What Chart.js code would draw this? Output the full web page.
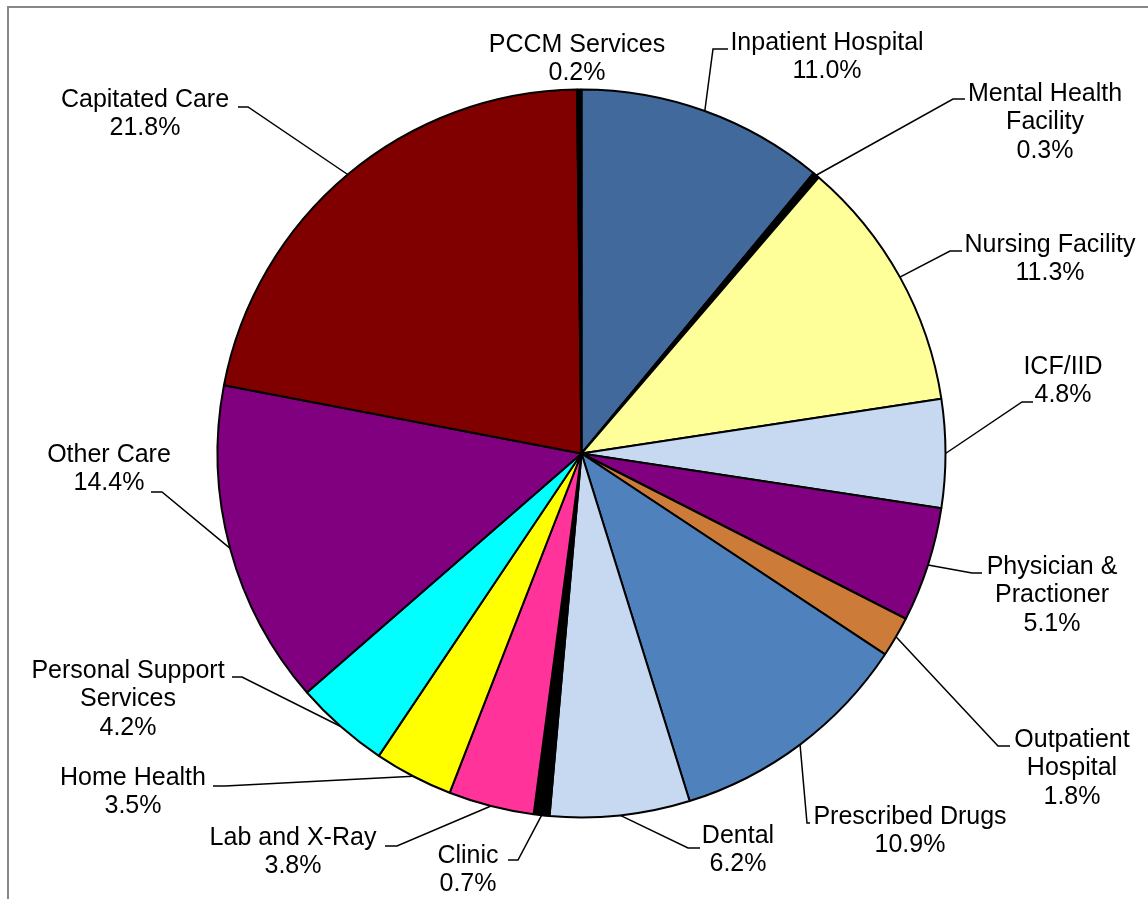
<!DOCTYPE html>
<html>
<head>
<meta charset="utf-8">
<title>Expenditures by Service Type</title>
<script src="https://cdn.jsdelivr.net/npm/chart.js@4.4.1/dist/chart.umd.min.js"></script>
<style>
  html, body { margin: 0; padding: 0; background: #ffffff; overflow: hidden; }
  #wrap { position: relative; width: 1148px; height: 899px; }
</style>
</head>
<body>
<div id="wrap"><canvas id="pie" width="1148" height="899"></canvas></div>
<script>
// Service categories (multi-line names as drawn)
const categories = [
  ['Inpatient Hospital'],
  ['Mental Health', 'Facility'],
  ['Nursing Facility'],
  ['ICF/IID'],
  ['Physician &', 'Practioner'],
  ['Outpatient', 'Hospital'],
  ['Prescribed Drugs'],
  ['Dental'],
  ['Clinic'],
  ['Lab and X-Ray'],
  ['Home Health'],
  ['Personal Support', 'Services'],
  ['Other Care'],
  ['Capitated Care'],
  ['PCCM Services']
];

// Share of total expenditures, percent
const shares = [11.0, 0.3, 11.3, 4.8, 5.1, 1.8, 10.9, 6.2, 0.7, 3.8, 3.5, 4.2, 14.4, 21.8, 0.2];

const sliceColors = [
  '#41699B', '#000000', '#FFFF99', '#C6D9F1', '#800080',
  '#CD7B38', '#4F81BD', '#C6D9F1', '#000000', '#FF3399',
  '#FFFF00', '#00FFFF', '#800080', '#800000', '#000000'
];

// Label placement: text block centre x, middle of first line y,
// and the leader's elbow (ex, ey) plus the end of its short horizontal stub (sx).
const labelLayout = [
  { x: 827,  y: 43,  ex: 713, ey: 49,  sx: 728 },
  { x: 1045, y: 94,  ex: 953, ey: 99,  sx: 965 },
  { x: 1050, y: 245, ex: 950, ey: 251, sx: 962 },
  { x: 1063, y: 367, ex: 1022, ey: 402, sx: 1033 },
  { x: 1052, y: 567, ex: 972, ey: 573, sx: 982 },
  { x: 1072, y: 740, ex: 998, ey: 746, sx: 1010 },
  { x: 910,  y: 817, ex: 807, ey: 823, sx: 810 },
  { x: 738,  y: 836, ex: 688, ey: 848, sx: 700 },
  { x: 468,  y: 856, ex: 518, ey: 860, sx: 508 },
  { x: 293,  y: 838, ex: 397, ey: 846, sx: 385 },
  { x: 133,  y: 778, ex: 225, ey: 786, sx: 213 },
  { x: 128,  y: 671, ex: 242, ey: 677, sx: 232 },
  { x: 109,  y: 455, ex: 162, ey: 492, sx: 151 },
  { x: 145,  y: 100, ex: 248, ey: 107, sx: 238 },
  { x: 577,  y: 45,  ex: null, ey: null, sx: null }
];

const LABEL_FONT = '25px "Liberation Sans", Arial, sans-serif';
const LINE_HEIGHT = 28.5;

// Grey frame around the plot area
const framePlugin = {
  id: 'frame',
  beforeDraw(chart) {
    const ctx = chart.ctx;
    ctx.save();
    ctx.strokeStyle = '#878787';
    ctx.lineWidth = 2;
    ctx.beginPath();
    ctx.moveTo(8, chart.height + 5);
    ctx.lineTo(8, 7);
    ctx.lineTo(chart.width + 5, 7);
    ctx.stroke();
    ctx.restore();
  }
};

// Category + percentage labels with leader lines to each slice's outer edge
const sliceLabelPlugin = {
  id: 'sliceLabels',
  afterDatasetsDraw(chart) {
    const ctx = chart.ctx;
    const meta = chart.getDatasetMeta(0);
    ctx.save();
    ctx.font = LABEL_FONT;
    ctx.fillStyle = '#000000';
    ctx.textAlign = 'center';
    ctx.textBaseline = 'middle';
    meta.data.forEach((arc, i) => {
      const lay = labelLayout[i];
      const p = arc.getProps(['x', 'y', 'startAngle', 'endAngle', 'outerRadius'], true);
      const mid = (p.startAngle + p.endAngle) / 2;
      const ax = p.x + Math.cos(mid) * p.outerRadius;
      const ay = p.y + Math.sin(mid) * p.outerRadius;
      if (lay.ex !== null) {
        ctx.strokeStyle = '#000000';
        ctx.lineWidth = 1.5;
        ctx.beginPath();
        ctx.moveTo(ax, ay);
        ctx.lineTo(lay.ex, lay.ey);
        ctx.lineTo(lay.sx, lay.ey);
        ctx.stroke();
      }
      const lines = categories[i].concat([shares[i].toFixed(1) + '%']);
      lines.forEach((t, k) => {
        ctx.fillText(t, lay.x, lay.y + k * LINE_HEIGHT);
      });
    });
    ctx.restore();
  }
};

new Chart(document.getElementById('pie'), {
  type: 'pie',
  data: {
    labels: categories.map(c => c.join(' ')),
    datasets: [{
      data: shares,
      backgroundColor: sliceColors,
      borderColor: '#000000',
      borderWidth: 2
    }]
  },
  options: {
    responsive: false,
    animation: false,
    radius: 364,
    layout: { padding: { left: 15, top: 8, right: 0, bottom: 0 } },
    plugins: {
      legend: { display: false },
      tooltip: { enabled: false }
    }
  },
  plugins: [framePlugin, sliceLabelPlugin]
});
</script>
</body>
</html>
